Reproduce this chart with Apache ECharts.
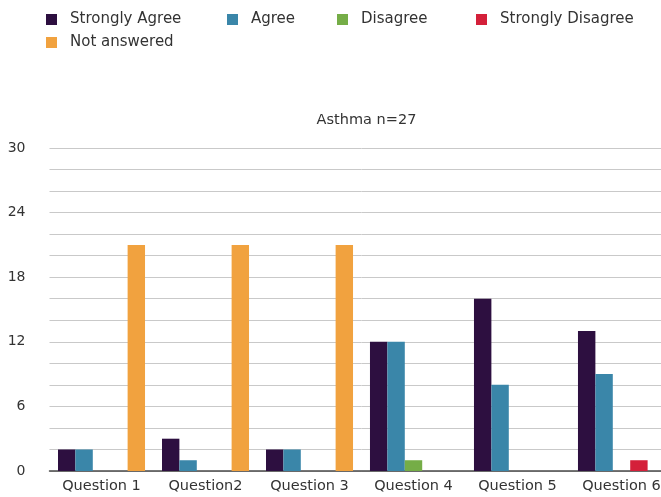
<!DOCTYPE html>
<html>
<head>
<meta charset="utf-8">
<script src="https://cdn.jsdelivr.net/npm/echarts@6/dist/echarts.min.js"></script>
<style>
  html, body { margin: 0; padding: 0; background: #ffffff; overflow: hidden; }
  /* the plot runs past the right edge of the window, so the last group is cut off */
  #chart { width: 674px; height: 497px; }
</style>
</head>
<body>
<div id="chart"></div>
<script>
// Survey responses per question, Asthma group (n=27)
const categories = ['Question 1', 'Question2', 'Question 3', 'Question 4', 'Question 5', 'Question 6'];
const stronglyAgree    = [2, 3, 2, 12, 16, 13];
const agree            = [2, 1, 2, 12, 8, 9];
const disagree         = [0, 0, 0, 1, 0, 0];
const stronglyDisagree = [0, 0, 0, 0, 0, 1];
const notAnswered      = [21, 21, 21, 0, 0, 0];
const yTickLabels      = [0, 6, 12, 18, 24, 30];

const seriesNames  = ['Strongly Agree', 'Agree', 'Disagree', 'Strongly Disagree', 'Not answered'];
const seriesValues = [stronglyAgree, agree, disagree, stronglyDisagree, notAnswered];
const seriesColors = ['#2d0f40', '#3a86a9', '#75ad47', '#d4203a', '#f1a23f'];

const FONT = 'DejaVu Sans';
const TEXT = '#333333';

// One legend block per entry so each sits at its own spot
const legendSpots = [
  { left: 46, top: 12 },
  { left: 227, top: 12 },
  { left: 337, top: 12 },
  { left: 476, top: 12 },
  { left: 46, top: 35 }
];

const chart = echarts.init(document.getElementById('chart'), null, { renderer: 'canvas' });

chart.setOption({
  animation: false,
  backgroundColor: '#ffffff',
  title: {
    text: 'Asthma n=27',
    left: 361.5,
    top: 108,
    textAlign: 'center',
    textStyle: { fontFamily: FONT, fontSize: 14.5, fontWeight: 'normal', color: TEXT }
  },
  legend: seriesNames.map((name, i) => ({
    data: [name],
    left: legendSpots[i].left,
    top: legendSpots[i].top,
    padding: 0,
    itemWidth: 11,
    itemHeight: 11,
    icon: 'rect',
    selectedMode: false,
    textStyle: { fontFamily: FONT, fontSize: 15, color: TEXT, padding: [0, 0, 0, 8] }
  })),
  grid: {
    left: 49.5,
    top: 148,
    right: 0.5,
    bottom: 26,
    containLabel: false
  },
  xAxis: {
    type: 'category',
    data: categories,
    axisLine: { show: true, lineStyle: { color: '#4a4a4a', width: 1.5 } },
    axisTick: { show: false },
    axisLabel: { fontFamily: FONT, fontSize: 14.5, color: TEXT, margin: 8, interval: 0 }
  },
  yAxis: {
    type: 'value',
    min: 0,
    max: 30,
    interval: 2,
    axisLine: { show: false },
    axisTick: { show: false },
    splitLine: { show: true, lineStyle: { color: '#c9c9c9', width: 1 } },
    axisLabel: {
      fontFamily: FONT,
      fontSize: 14,
      color: TEXT,
      margin: 24,
      formatter: v => (yTickLabels.indexOf(v) >= 0 ? String(v) : '')
    }
  },
  series: seriesNames.map((name, i) => ({
    name: name,
    type: 'bar',
    data: seriesValues[i],
    barGap: '0%',
    barCategoryGap: '16.3%',
    itemStyle: { color: seriesColors[i] }
  }))
});
</script>
</body>
</html>
